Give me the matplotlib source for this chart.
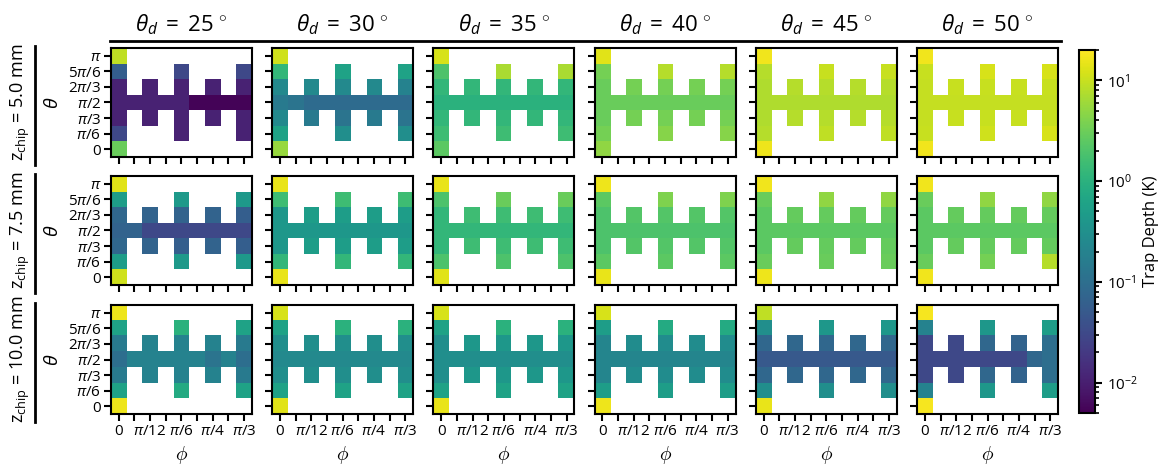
import matplotlib
matplotlib.use("Agg")
import matplotlib.pyplot as plt
from matplotlib.colors import LogNorm
from matplotlib.lines import Line2D
import numpy as np

plt.rcParams['font.family'] = ['Open Sans', 'DejaVu Sans']
plt.rcParams['mathtext.fontset'] = 'custom'
plt.rcParams['mathtext.rm'] = 'Open Sans'
plt.rcParams['mathtext.it'] = 'Open Sans:italic'
plt.rcParams['mathtext.bf'] = 'Open Sans:bold'

theta_d = [25, 30, 35, 40, 45, 50]
z_chip = [5.0, 7.5, 10.0]
theta_labels = ['0', r'$\pi/6$', r'$\pi/3$', r'$\pi/2$', r'$2\pi/3$', r'$5\pi/6$', r'$\pi$']
phi_labels = ['0', '', r'$\pi/12$', '', r'$\pi/6$', '', r'$\pi/4$', '', r'$\pi/3$']

# half height (in theta steps, around pi/2) of each phi column that was simulated
col_span = [3, 0, 1, 0, 2, 0, 1, 0, 2]

# trap depth (K) per panel, cells listed column by column (phi = 0 .. pi/3),
# bottom to top (theta) inside a column
depth_z50 = [
    [3.0, 0.03, 0.011, 0.011, 0.011, 0.06, 9.0, 0.011, 0.011, 0.011, 0.011, 0.011,
     0.011, 0.011, 0.011, 0.011, 0.03, 0.0055, 0.011, 0.0055, 0.011, 0.0055,
     0.011, 0.011, 0.0055, 0.011, 0.03],
    [5.5, 0.6, 0.25, 0.15, 0.25, 1.2, 11, 0.12, 0.15, 0.09, 0.25, 0.09,
     0.3, 0.12, 0.09, 0.25, 0.6, 0.09, 0.15, 0.09, 0.25, 0.09,
     0.3, 0.12, 0.09, 0.2, 0.6],
    [2.5, 1.5, 1.2, 1.0, 1.2, 2.0, 12, 1.0, 1.2, 1.0, 1.2, 1.0,
     1.5, 1.2, 1.0, 1.2, 7.0, 1.0, 1.2, 1.0, 1.2, 1.0,
     1.5, 1.2, 1.0, 1.2, 7.0],
    [5.0, 3.5, 3.0, 3.0, 3.0, 3.5, 14, 3.0, 3.5, 3.0, 3.5, 3.0,
     4.5, 3.5, 3.0, 3.5, 8.0, 3.0, 3.5, 3.0, 3.5, 3.0,
     4.5, 3.5, 3.0, 3.5, 8.0],
    [16, 8.0, 7.5, 7.5, 7.5, 8.0, 17, 7.5, 8.0, 7.5, 8.0, 7.5,
     9.0, 8.0, 7.5, 8.0, 10, 7.5, 8.0, 7.5, 8.0, 7.5,
     9.0, 8.0, 7.5, 8.0, 10],
    [17, 10, 9.5, 9.5, 9.5, 10, 17, 9.5, 10, 9.5, 10, 9.5,
     11, 10, 9.5, 10, 12, 9.5, 10, 9.5, 10, 9.5,
     12, 10, 9.5, 10, 12],
]
depth_z75 = [
    [11, 0.5, 0.08, 0.07, 0.08, 0.5, 14, 0.07, 0.07, 0.03, 0.07, 0.03,
     0.45, 0.06, 0.03, 0.07, 0.45, 0.03, 0.07, 0.03, 0.07, 0.03,
     0.45, 0.06, 0.03, 0.06, 0.45],
    [15, 1.2, 0.4, 0.4, 0.4, 1.5, 15, 0.4, 0.5, 0.4, 0.5, 0.4,
     1.2, 0.5, 0.4, 0.5, 1.5, 0.4, 0.5, 0.4, 0.5, 0.4,
     1.2, 0.5, 0.4, 0.5, 1.5],
    [14, 2.0, 1.2, 1.2, 1.2, 2.0, 15, 1.2, 1.5, 1.2, 1.5, 1.2,
     2.0, 1.5, 1.2, 1.5, 3.0, 1.2, 1.5, 1.2, 1.5, 1.2,
     2.0, 1.5, 1.2, 1.5, 3.0],
    [15, 2.5, 2.0, 2.0, 2.0, 2.5, 16, 2.0, 2.2, 2.0, 2.2, 2.0,
     2.5, 2.2, 2.0, 2.2, 4.0, 2.0, 2.2, 2.0, 2.2, 2.0,
     2.5, 2.2, 2.0, 2.2, 4.0],
    [16, 3.0, 2.5, 2.5, 2.5, 3.0, 17, 2.5, 2.8, 2.5, 2.8, 2.5,
     3.0, 2.8, 2.5, 2.8, 5.0, 2.5, 2.8, 2.5, 2.8, 2.5,
     3.0, 2.8, 2.5, 2.8, 5.0],
    [17, 3.0, 2.5, 2.5, 2.5, 3.0, 17, 2.5, 2.8, 2.5, 2.8, 2.5,
     3.5, 2.8, 2.5, 2.8, 5.0, 2.5, 2.8, 2.5, 2.8, 2.5,
     8.0, 2.8, 2.5, 2.8, 5.0],
]
depth_z100 = [
    [16, 0.6, 0.15, 0.1, 0.15, 0.6, 16, 0.2, 0.2, 0.2, 0.2, 0.2,
     0.8, 0.2, 0.2, 0.2, 1.0, 0.2, 0.2, 0.12, 0.2, 0.2,
     0.6, 0.15, 0.1, 0.15, 0.6],
    [14, 0.6, 0.3, 0.25, 0.3, 0.6, 12, 0.25, 0.3, 0.25, 0.3, 0.25,
     0.6, 0.3, 0.25, 0.3, 1.0, 0.25, 0.3, 0.25, 0.3, 0.25,
     0.6, 0.3, 0.25, 0.3, 1.0],
    [15, 0.6, 0.3, 0.3, 0.3, 0.6, 12, 0.3, 0.4, 0.3, 0.4, 0.3,
     0.6, 0.4, 0.3, 0.4, 1.0, 0.3, 0.4, 0.3, 0.4, 0.3,
     0.6, 0.4, 0.3, 0.4, 1.0],
    [16, 0.5, 0.22, 0.22, 0.22, 0.5, 12, 0.22, 0.28, 0.22, 0.28, 0.22,
     0.5, 0.28, 0.22, 0.28, 0.8, 0.22, 0.28, 0.22, 0.28, 0.22,
     0.5, 0.28, 0.22, 0.28, 0.8],
    [15, 0.3, 0.08, 0.05, 0.08, 0.3, 9.0, 0.05, 0.08, 0.05, 0.08, 0.05,
     0.3, 0.08, 0.05, 0.08, 0.4, 0.05, 0.08, 0.05, 0.08, 0.05,
     0.3, 0.08, 0.05, 0.08, 0.4],
    [18, 0.2, 0.03, 0.03, 0.03, 0.2, 18, 0.03, 0.03, 0.03, 0.03, 0.03,
     0.4, 0.08, 0.03, 0.08, 0.4, 0.03, 0.07, 0.03, 0.07, 0.08,
     0.5, 0.1, 0.1, 0.1, 0.5],
]
depths = [depth_z50, depth_z75, depth_z100]


def to_grid(values):
    grid = np.full((7, 9), np.nan)
    k = 0
    for c, span in enumerate(col_span):
        for r in range(3 - span, 4 + span):
            grid[r, c] = values[k]
            k += 1
    return grid


W, H = 1158, 468
fig = plt.figure(figsize=(W / 100, H / 100), dpi=100)
norm = LogNorm(vmin=5e-3, vmax=20)

lefts = [111 + 161.2 * j for j in range(6)]
tops = [48, 176, 305]
aw, ah = 141, 109

for i in range(3):
    for j in range(6):
        ax = fig.add_axes([lefts[j] / W, 1 - (tops[i] + ah) / H, aw / W, ah / H])
        grid = np.ma.masked_invalid(to_grid(depths[i][j]))
        im = ax.imshow(grid, origin='lower', cmap='viridis', norm=norm,
                       aspect='auto', interpolation='nearest')
        ax.set_xticks(range(9))
        ax.set_yticks(range(7))
        if i == 2:
            ax.set_xticklabels(phi_labels, fontsize=11)
            ax.set_xlabel(r'$\phi$', fontsize=14)
        else:
            ax.set_xticklabels([])
        if j == 0:
            ax.set_yticklabels(theta_labels, fontsize=11)
            ax.set_ylabel(r'$\theta$', fontsize=14)
        else:
            ax.set_yticklabels([])
        ax.tick_params(length=5, width=1.5, pad=2)
        for s in ax.spines.values():
            s.set_linewidth(1.5)
        if i == 0:
            ax.set_title(r'$\theta_d\;=\;%d^{\,\circ}$' % theta_d[j], fontsize=16, pad=12)

# row labels with side bars
for i in range(3):
    yc = 1 - (tops[i] + ah / 2) / H
    fig.text(20 / W, yc, r'z$_{\mathrm{chip}}$ = %.1f mm' % z_chip[i],
             rotation=90, ha='center', va='center', fontsize=13)
    fig.add_artist(Line2D([35 / W, 35 / W],
                          [1 - (tops[i] - 2) / H, 1 - (tops[i] + ah + 8) / H],
                          color='k', lw=2))

# line under the column titles
fig.add_artist(Line2D([110 / W, 1061 / W], [1 - 41 / H, 1 - 41 / H], color='k', lw=2))

cax = fig.add_axes([1079 / W, 1 - 413 / H, 16 / W, 363 / H])
cb = fig.colorbar(im, cax=cax)
cb.set_label('Trap Depth (K)', fontsize=12)
cb.ax.tick_params(labelsize=11, width=1.5, length=5)
cb.ax.tick_params(which='minor', width=1.2, length=3)
cb.outline.set_linewidth(1.5)

fig.savefig('out.png', dpi=100)
